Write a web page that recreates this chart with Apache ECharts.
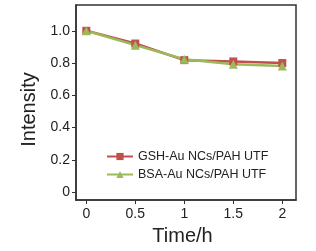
<!DOCTYPE html>
<html><head><meta charset="utf-8">
<script src="https://cdn.jsdelivr.net/npm/echarts@6/dist/echarts.min.js"></script>
<style>html,body{margin:0;padding:0;background:#fff}#c{width:316px;height:251px}</style>
</head><body><div id="c"></div>
<script>
const times = [0, 0.5, 1, 1.5, 2];
const gshValues = [1.0, 0.921, 0.818, 0.81, 0.80];
const bsaValues = [1.0, 0.911, 0.824, 0.792, 0.781];
const seriesNames = ['GSH-Au NCs/PAH UTF', 'BSA-Au NCs/PAH UTF'];
const xTicks = [0, 0.5, 1, 1.5, 2];
const yTicks = [0, 0.2, 0.4, 0.6, 0.8, 1.0];

const chart = echarts.init(document.getElementById('c'), null, {renderer: 'canvas'});
const font = 'Liberation Sans, Arial, sans-serif';
chart.setOption({
  animation: false,
  backgroundColor: '#fff',
  grid: {left: 76, right: 20, top: 5, bottom: 47, show: true, borderColor: '#333', borderWidth: 1.5, backgroundColor: 'transparent'},
  legend: {
    orient: 'vertical', left: 101, top: 145, itemWidth: 26, itemHeight: 9, itemGap: 5,
    textStyle: {fontFamily: font, fontSize: 12.5, color: '#222'},
    data: seriesNames
  },
  xAxis: {
    type: 'value', min: -0.105, max: 2.14,
    name: 'Time/h', nameLocation: 'middle', nameGap: 24,
    nameTextStyle: {fontFamily: font, fontSize: 20, color: '#222', padding: [0, 7, 0, 0]},
    axisLine: {show: true, onZero: false, lineStyle: {color: '#333', width: 1.5}},
    axisTick: {show: true, length: 4, customValues: xTicks, lineStyle: {color: '#333'}},
    axisLabel: {customValues: xTicks, margin: 7, fontFamily: font, fontSize: 14, color: '#222',
      formatter: v => String(v)},
    splitLine: {show: false}
  },
  yAxis: {
    type: 'value', min: -0.05, max: 1.16,
    name: 'Intensity', nameLocation: 'middle', nameGap: 36,
    nameTextStyle: {fontFamily: font, fontSize: 20, color: '#222', padding: [0, 14, 0, 0]},
    axisLine: {show: true, onZero: false, lineStyle: {color: '#333', width: 1.5}},
    axisTick: {show: true, length: 4, customValues: yTicks, lineStyle: {color: '#333'}},
    axisLabel: {customValues: yTicks, margin: 6, fontFamily: font, fontSize: 14, color: '#222',
      formatter: v => (v === 0 ? '0' : v.toFixed(1))},
    splitLine: {show: false}
  },
  series: [
    {name: seriesNames[0], type: 'line', data: times.map((t, i) => [t, gshValues[i]]),
      symbol: 'rect', symbolSize: 8, lineStyle: {color: '#c0504d', width: 2.5},
      itemStyle: {color: '#c0504d'}},
    {name: seriesNames[1], type: 'line', data: times.map((t, i) => [t, bsaValues[i]]),
      symbol: 'triangle', symbolSize: 9, lineStyle: {color: '#9bbb59', width: 2.5},
      itemStyle: {color: '#9bbb59'}}
  ]
});
</script></body></html>
